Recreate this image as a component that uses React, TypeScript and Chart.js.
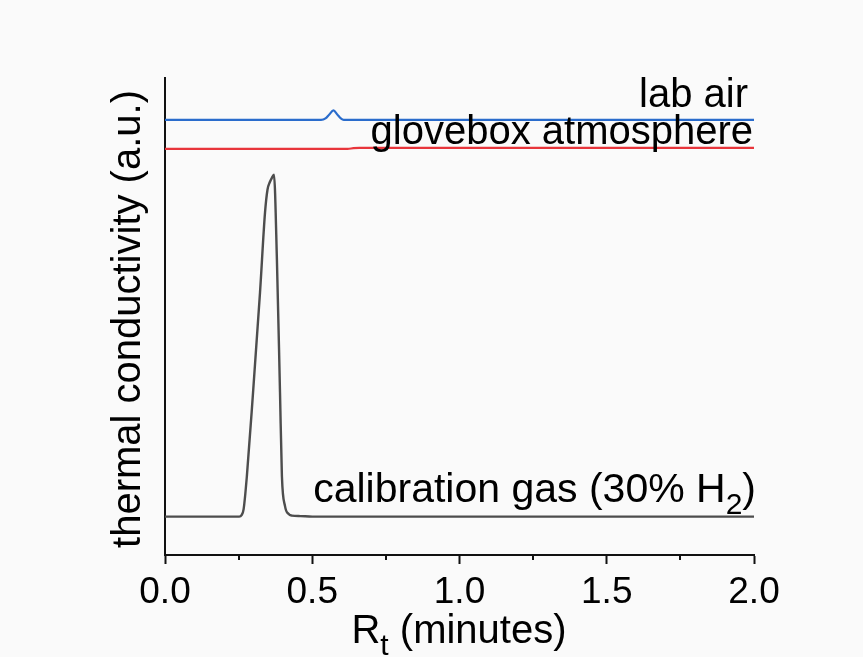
import React, { useEffect, useRef } from "react";
import { Chart, registerables } from "chart.js";

Chart.register(...registerables);

// x axis (retention time, minutes)
const xMajorTicks = [0, 0.5, 1.0, 1.5, 2.0];
const xMinorTicks = [0.25, 0.75, 1.25, 1.75];

// calibration gas trace
const calibrationTime = [0, 0.1, 0.2, 0.252, 0.26, 0.267, 0.278, 0.299, 0.3226, 0.3396, 0.348, 0.3565, 0.363, 0.37, 0.38, 0.3905, 0.397, 0.4075, 0.42, 0.431, 0.46, 0.5, 0.7, 1.0, 1.5, 2.0];
const calibrationSignal = [38.5, 38.5, 38.5, 38.5, 40, 46, 79, 163, 263, 343, 366, 374, 378, 381, 296, 163, 79, 49, 41, 39.5, 39, 38.5, 38.5, 38.5, 38.5, 38.5];

// lab air trace
const labAirTime = [0, 0.3, 0.53, 0.545, 0.558, 0.572, 0.585, 0.597, 0.607, 0.8, 1.2, 1.6, 2.0];
const labAirSignal = [436, 436, 436, 437.5, 441.5, 445.5, 441.5, 437.5, 436, 436, 436, 436, 436];

// glovebox atmosphere trace
const gloveboxTime = [0, 0.3, 0.62, 0.64, 0.66, 0.9, 1.3, 1.7, 2.0];
const gloveboxSignal = [407, 407, 407, 407.7, 408, 408, 408, 408, 408];

const Y_MIN = 0;
const Y_MAX = 478;

const FONT = "'Liberation Sans', Arial, Helvetica, sans-serif";

function toPoints(xs: number[], ys: number[]) {
  return xs.map((x, i) => ({ x, y: ys[i] }));
}

export default function App() {
  const ref = useRef<HTMLCanvasElement>(null);

  useEffect(() => {
    const canvas = ref.current;
    if (!canvas) return;

    const textPlugin = {
      id: "textPlugin",
      afterDraw(chart: any) {
        const ctx = chart.ctx as CanvasRenderingContext2D;
        const xs = chart.scales.x;
        const area = chart.chartArea;
        ctx.save();
        // minor ticks
        ctx.strokeStyle = "#111";
        ctx.lineWidth = 2;
        xMinorTicks.forEach((v) => {
          const px = Math.round(xs.getPixelForValue(v));
          ctx.beginPath();
          ctx.moveTo(px, area.bottom);
          ctx.lineTo(px, area.bottom + 5);
          ctx.stroke();
        });

        ctx.fillStyle = "#000";
        ctx.textBaseline = "alphabetic";
        const big = `40px ${FONT}`;
        const big2 = `41px ${FONT}`;
        const sub = `30px ${FONT}`;

        // annotations
        ctx.font = big;
        ctx.textAlign = "right";
        ctx.fillText("lab air", 748, 107);
        ctx.fillText("glovebox atmosphere", 753, 143.5);

        // calibration gas (30% H2) with subscript
        ctx.textAlign = "left";
        const p1 = "calibration gas (30% H";
        const p2 = "2";
        const p3 = ")";
        ctx.font = big2;
        const w1 = ctx.measureText(p1).width;
        const w3 = ctx.measureText(p3).width;
        ctx.font = sub;
        const w2 = ctx.measureText(p2).width;
        let sx = 756 - (w1 + w2 + w3);
        ctx.font = big2;
        ctx.fillText(p1, sx, 502);
        sx += w1;
        ctx.font = sub;
        ctx.fillText(p2, sx, 513.5);
        sx += w2;
        ctx.font = big2;
        ctx.fillText(p3, sx, 502);

        // x title R_t (minutes)
        const t1 = "R";
        const t2 = "t";
        const t3 = " (minutes)";
        ctx.font = big;
        const a1 = ctx.measureText(t1).width;
        const a3 = ctx.measureText(t3).width;
        ctx.font = sub;
        const a2 = ctx.measureText(t2).width;
        let tx = 459 - (a1 + a2 + a3) / 2;
        ctx.font = big;
        ctx.fillText(t1, tx, 643);
        tx += a1;
        ctx.font = sub;
        ctx.fillText(t2, tx, 655);
        tx += a2;
        ctx.font = big;
        ctx.fillText(t3, tx, 643);

        // y title
        ctx.translate(140, 319);
        ctx.rotate(-Math.PI / 2);
        ctx.textAlign = "center";
        ctx.font = big;
        ctx.fillText("thermal conductivity (a.u.)", 0, 0);
        ctx.restore();
      },
    };

    const chart = new Chart(canvas, {
      type: "line",
      data: {
        datasets: [
          {
            label: "calibration gas (30% H2)",
            data: toPoints(calibrationTime, calibrationSignal),
            borderColor: "#4d4d4d",
            borderWidth: 2.4,
            pointRadius: 0,
            cubicInterpolationMode: "monotone",
          },
          {
            label: "lab air",
            data: toPoints(labAirTime, labAirSignal),
            borderColor: "#2a6ccc",
            borderWidth: 2.2,
            pointRadius: 0,
            cubicInterpolationMode: "monotone",
          },
          {
            label: "glovebox atmosphere",
            data: toPoints(gloveboxTime, gloveboxSignal),
            borderColor: "#e8353b",
            borderWidth: 2.2,
            pointRadius: 0,
            cubicInterpolationMode: "monotone",
          },
        ],
      },
      options: {
        responsive: false,
        animation: false,
        devicePixelRatio: 1,
        layout: { padding: { top: 78, right: 109, left: 0, bottom: 0 } },
        plugins: {
          legend: { display: false },
          tooltip: { enabled: false },
          title: { display: false },
        },
        scales: {
          x: {
            type: "linear",
            min: 0,
            max: 2,
            afterFit: (s: any) => {
              s.height = 102;
            },
            afterBuildTicks: (s: any) => {
              s.ticks = xMajorTicks.map((v) => ({ value: v }));
            },
            ticks: {
              font: { family: FONT, size: 37 },
              color: "#000",
              padding: 7,
              maxRotation: 0,
              autoSkip: false,
              callback: (v: any) => Number(v).toFixed(1),
            },
            grid: {
              display: true,
              drawOnChartArea: false,
              drawTicks: true,
              tickLength: 9,
              tickWidth: 2,
              tickColor: "#111",
            },
            border: { display: true, color: "#111", width: 2 },
          },
          y: {
            type: "linear",
            min: Y_MIN,
            max: Y_MAX,
            afterFit: (s: any) => {
              s.width = 165;
            },
            ticks: { display: false },
            grid: { display: true, drawOnChartArea: false, drawTicks: false },
            border: { display: true, color: "#111", width: 2 },
          },
        },
      },
      plugins: [textPlugin],
    } as any);

    return () => chart.destroy();
  }, []);

  return (
    <div
      style={{
        position: "fixed",
        left: 0,
        top: 0,
        width: 863,
        height: 657,
        background: "#fafafa",
      }}
    >
      <canvas ref={ref} width={863} height={657} style={{ display: "block" }} />
    </div>
  );
}
